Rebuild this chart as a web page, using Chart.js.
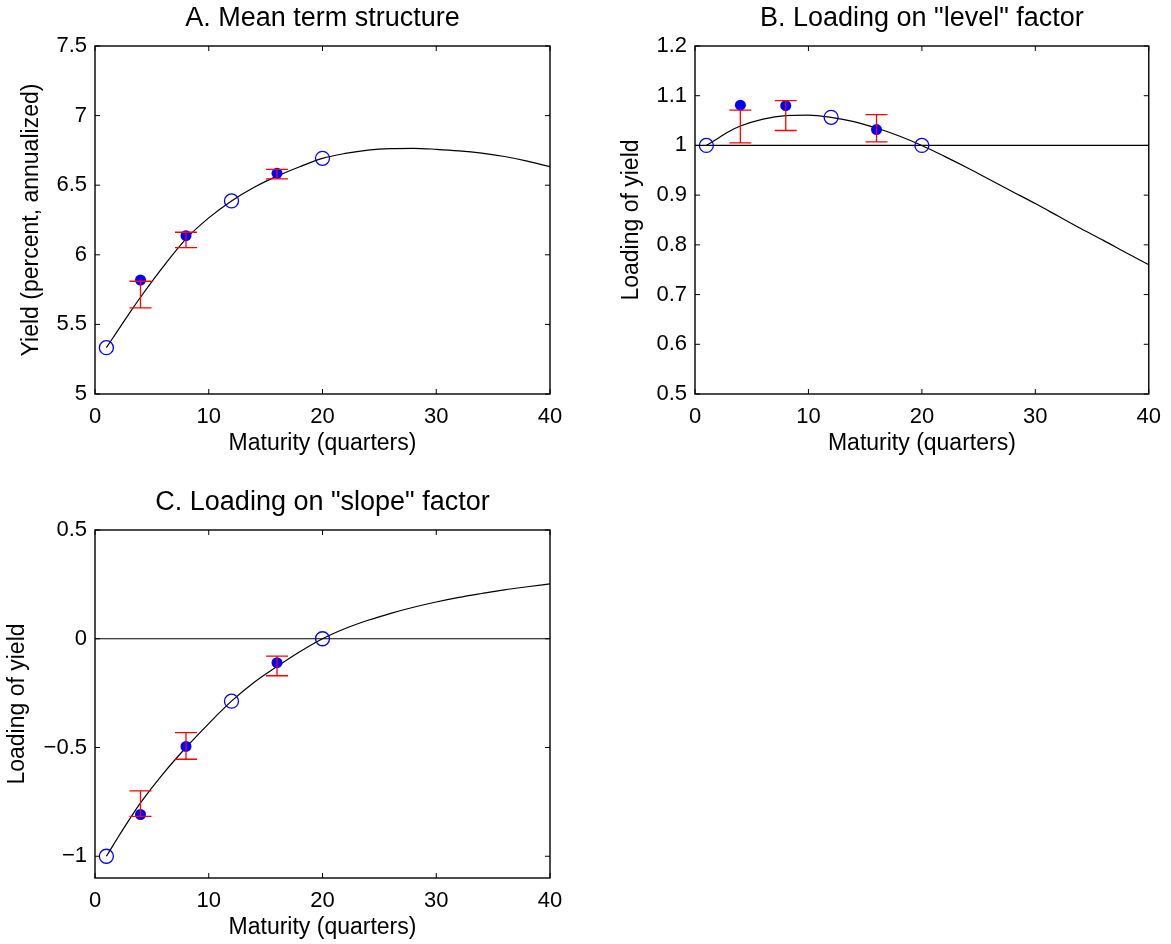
<!DOCTYPE html>
<html>
<head>
<meta charset="utf-8">
<script src="https://cdn.jsdelivr.net/npm/chart.js@4.4.1/dist/chart.umd.min.js"></script>
<style>
  html, body { margin: 0; padding: 0; background: #fff; }
  body { width: 1171px; height: 944px; position: relative; overflow: hidden; }
  canvas { position: absolute; }
  #panelA { left: 0; top: 0; }
  #panelB { left: 600px; top: 0; }
  #panelC { left: 0; top: 484px; }
</style>
</head>
<body>
<canvas id="panelA" width="575" height="460"></canvas>
<canvas id="panelB" width="571" height="460"></canvas>
<canvas id="panelC" width="575" height="460"></canvas>
<script>
// maturities (quarters)
const curveX = [1, 2, 3, 4, 6, 8, 10, 12, 14, 16, 18, 20, 22, 24, 26, 28, 30, 32, 34, 36, 38, 40];
const modelX = [1, 12, 20];
const estX = [4, 8, 16];
const xTicks = [0, 10, 20, 30, 40];

// A. mean term structure
const curveA = [5.333, 5.455, 5.578, 5.695, 5.915, 6.115, 6.265, 6.387, 6.485, 6.565, 6.633, 6.693,
  6.728, 6.752, 6.763, 6.765, 6.758, 6.747, 6.730, 6.706, 6.673, 6.633];
const modelA = [5.333, 6.387, 6.693];
const estA = [5.819, 6.137, 6.585];
const lowA = [5.618, 6.051, 6.545];
const highA = [5.810, 6.162, 6.614];
const yTicksA = [5, 5.5, 6, 6.5, 7, 7.5];

// B. loading on level factor
const curveB = [1.0, 1.014, 1.028, 1.039, 1.053, 1.060, 1.061, 1.0565, 1.048, 1.035, 1.019, 1.0,
  0.978, 0.955, 0.931, 0.907, 0.883, 0.858, 0.833, 0.809, 0.784, 0.760];
const modelB = [1.0, 1.0565, 1.0];
const estB = [1.081, 1.080, 1.032];
const lowB = [1.005, 1.030, 1.007];
const highB = [1.071, 1.090, 1.062];
const yTicksB = [0.5, 0.6, 0.7, 0.8, 0.9, 1, 1.1, 1.2];

// C. loading on slope factor
const curveC = [-1.0, -0.915, -0.833, -0.755, -0.620, -0.500, -0.390, -0.287, -0.200, -0.128, -0.060, 0.0,
  0.047, 0.085, 0.117, 0.145, 0.169, 0.190, 0.208, 0.225, 0.239, 0.252];
const modelC = [-1.0, -0.287, 0.0];
const estC = [-0.808, -0.495, -0.110];
const lowC = [-0.817, -0.554, -0.170];
const highC = [-0.699, -0.432, -0.080];
const yTicksC = [-1, -0.5, 0, 0.5];

const FONT = '"Liberation Sans", Arial, Helvetica, sans-serif';

// red error bars + matlab style box with inward ticks
const matlabFrame = {
  id: 'matlabFrame',
  afterDatasetsDraw(chart) {
    const { ctx, chartArea: a } = chart;
    const x = chart.scales.x, y = chart.scales.y;
    chart.data.datasets.forEach(ds => {
      if (!ds.errLow) return;
      ctx.save();
      ctx.strokeStyle = '#ff0000';
      ctx.lineWidth = 1.3;
      ds.data.forEach((p, i) => {
        const px = x.getPixelForValue(p.x);
        const lo = y.getPixelForValue(ds.errLow[i]);
        const hi = y.getPixelForValue(ds.errHigh[i]);
        ctx.beginPath();
        ctx.moveTo(px, lo); ctx.lineTo(px, hi);
        ctx.moveTo(px - 11, lo); ctx.lineTo(px + 11, lo);
        ctx.moveTo(px - 11, hi); ctx.lineTo(px + 11, hi);
        ctx.stroke();
      });
      ctx.restore();
    });

    ctx.save();
    ctx.strokeStyle = '#000';
    ctx.lineWidth = 1.4;
    ctx.strokeRect(a.left, a.top, a.right - a.left, a.bottom - a.top);
    ctx.lineWidth = 1;
    ctx.beginPath();
    x.ticks.forEach(t => {
      const px = x.getPixelForValue(t.value);
      ctx.moveTo(px, a.bottom); ctx.lineTo(px, a.bottom - 5);
      ctx.moveTo(px, a.top); ctx.lineTo(px, a.top + 5);
    });
    y.ticks.forEach(t => {
      const py = y.getPixelForValue(t.value);
      ctx.moveTo(a.left, py); ctx.lineTo(a.left + 5, py);
      ctx.moveTo(a.right, py); ctx.lineTo(a.right - 5, py);
    });
    ctx.stroke();
    ctx.restore();
  }
};

function pts(xs, ys) {
  return xs.map((v, i) => ({ x: v, y: ys[i] }));
}

function makePanel(id, p) {
  const datasets = [
    {
      data: pts(estX, p.est),
      errLow: p.low,
      errHigh: p.high,
      showLine: false,
      pointRadius: 5.5,
      pointBackgroundColor: '#0000ff',
      pointBorderColor: '#0000ff',
      pointBorderWidth: 0
    },
    {
      data: pts(modelX, p.model),
      showLine: false,
      pointRadius: 7,
      pointBackgroundColor: 'rgba(0,0,0,0)',
      pointBorderColor: '#0000ff',
      pointBorderWidth: 1.3
    },
    {
      data: pts(curveX, p.curve),
      borderColor: '#000',
      borderWidth: 1.2,
      pointRadius: 0,
      cubicInterpolationMode: 'monotone',
      fill: false
    }
  ];
  if (p.ref !== undefined) {
    datasets.push({
      data: pts([0, 40], [p.ref, p.ref]),
      borderColor: '#000',
      borderWidth: 1.2,
      pointRadius: 0,
      fill: false
    });
  }

  new Chart(document.getElementById(id), {
    type: 'line',
    data: { datasets: datasets },
    options: {
      responsive: false,
      animation: false,
      devicePixelRatio: 1,
      layout: { padding: { left: 0, right: p.padRight, top: 0, bottom: 0 } },
      plugins: {
        legend: { display: false },
        tooltip: { enabled: false },
        title: {
          display: true,
          fullSize: false,
          text: p.title,
          color: '#000',
          font: { family: FONT, size: 27, weight: 'normal', lineHeight: 1.2 },
          padding: { top: 2, bottom: 11.6 }
        }
      },
      scales: {
        x: {
          type: 'linear',
          min: 0,
          max: 40,
          afterBuildTicks: s => { s.ticks = xTicks.map(v => ({ value: v })); },
          afterFit: s => { s.height = 66; },
          grid: { display: false, drawTicks: false },
          border: { display: false },
          ticks: { color: '#000', font: { family: FONT, size: 22 }, padding: 10, maxRotation: 0, autoSkip: false },
          title: {
            display: true,
            text: 'Maturity (quarters)',
            color: '#000',
            font: { family: FONT, size: 23, lineHeight: 1.2 },
            padding: { top: 0, bottom: 3 }
          }
        },
        y: {
          type: 'linear',
          min: p.yMin,
          max: p.yMax,
          afterBuildTicks: s => { s.ticks = p.yTicks.map(v => ({ value: v })); },
          afterFit: s => { s.width = 95; },
          grid: { display: false, drawTicks: false },
          border: { display: false },
          ticks: {
            color: '#000',
            font: { family: FONT, size: 22 },
            padding: 8,
            autoSkip: false,
            callback: v => String(v).replace('-', '\u2212')
          },
          title: {
            display: true,
            text: p.yTitle,
            color: '#000',
            font: { family: FONT, size: 23, lineHeight: 1.2 },
            padding: { top: p.yTitlePad, bottom: 0 }
          }
        }
      }
    },
    plugins: [matlabFrame]
  });
}

makePanel('panelA', {
  title: 'A. Mean term structure', yTitle: 'Yield (percent, annualized)', yTitlePad: 18,
  yMin: 5, yMax: 7.5, yTicks: yTicksA, padRight: 25,
  curve: curveA, model: modelA, est: estA, low: lowA, high: highA
});

makePanel('panelB', {
  title: 'B. Loading on "level" factor', yTitle: 'Loading of yield', yTitlePad: 18,
  yMin: 0.5, yMax: 1.2, yTicks: yTicksB, padRight: 20, ref: 1,
  curve: curveB, model: modelB, est: estB, low: lowB, high: highB
});

makePanel('panelC', {
  title: 'C. Loading on "slope" factor', yTitle: 'Loading of yield', yTitlePad: 4,
  yMin: -1.1, yMax: 0.5, yTicks: yTicksC, padRight: 25, ref: 0,
  curve: curveC, model: modelC, est: estC, low: lowC, high: highC
});
</script>
</body>
</html>
